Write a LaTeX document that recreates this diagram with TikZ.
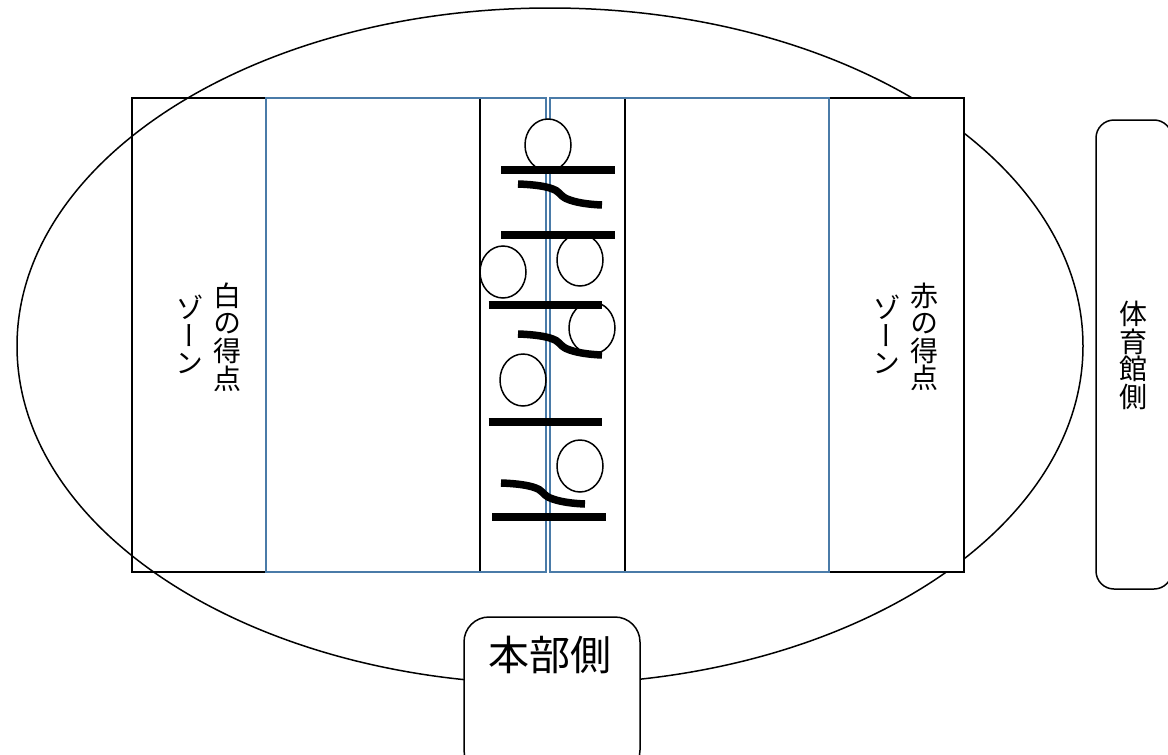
\documentclass[tikz,border=0pt]{standalone}
\usepackage{fontspec}
\newfontfamily\jp{Noto Sans CJK JP}[RawFeature={+vert}]
\newfontfamily\jph{Noto Sans CJK JP}
\definecolor{courtblue}{HTML}{4A7BA8}
\tikzset{
  court/.style={draw=courtblue,line width=2.1pt},
  zone/.style={draw=black,line width=2.6pt},
  thin line/.style={draw=black,line width=1.5pt},
  bar/.style={draw=black,line width=8pt},
  swerve/.style={draw=black,line width=7.5pt},
  player/.style={draw=black,fill=white,line width=1.5pt},
  vtext/.style={font=\jp\fontsize{28}{27.6}\selectfont,align=center,inner sep=0pt,anchor=north},
  panel/.style={draw=black,fill=white,line width=1.5pt,rounded corners=#1},
}
\newcommand{\swervepath}[2]{%
  \draw[swerve] (#1,#2) .. controls (#1+14,#2+0.5) and (#1+30,#2+2) .. (#1+38,#2+6.5)
     .. controls (#1+43,#2+10) and (#1+43,#2+12) .. (#1+48,#2+14.5)
     .. controls (#1+58,#2+19) and (#1+72,#2+20.5) .. (#1+84,#2+21);}
\begin{document}
\begin{tikzpicture}[x=1pt,y=-1pt]
\useasboundingbox (0,0) rectangle (1168,755);
\clip (0,0) rectangle (1168,755);
\draw[thin line] (550,346) ellipse [x radius=533,y radius=338];
% right score zone hides the ellipse
\draw[zone,fill=white] (829,98) rectangle (964,572);
\draw[zone] (132,98) rectangle (266,572);
% court
\draw[thin line] (480,98) -- (480,572);
\draw[thin line] (625,98) -- (625,572);
\draw[court] (266,98) rectangle (546,572);
\draw[court] (550,98) rectangle (829,572);
% players
\draw[player] (548,145) ellipse [x radius=23,y radius=26];
\draw[player] (580,260) ellipse [x radius=23,y radius=26];
\draw[player] (503,272) ellipse [x radius=23,y radius=26];
\draw[player] (592,328) ellipse [x radius=23,y radius=26];
\draw[player] (523,380) ellipse [x radius=23,y radius=26];
\draw[player] (580,466) ellipse [x radius=23,y radius=26];
% bars
\draw[bar] (501,169.5) -- (615,169.5);
\draw[bar] (501,235) -- (615,235);
\draw[bar] (488.5,305) -- (602,305);
\draw[bar] (488.5,422) -- (602,422);
\draw[bar] (492,517) -- (606,517);
\swervepath{518}{184}
\swervepath{518}{334}
\swervepath{501}{483}
% side panels
\draw[panel=25] (464,617) rectangle (640,775);
\draw[panel=18] (1096,120) rectangle (1172,589);
% text
\node[vtext] (w1) at (227,282.5) {白\\の\\得\\点};
\node[vtext] (w2) at (189,295) {ゾ\\ー\\ン};
\node[vtext] (r1) at (924,282.5) {赤\\の\\得\\点};
\node[vtext] (r2) at (886,295) {ゾ\\ー\\ン};
\node[vtext] (gym) at (1133.5,301) {体\\育\\館\\側};
\node[font=\jph\fontsize{41}{45}\selectfont,inner sep=0pt] (hq) at (550,655) {本部側};
\end{tikzpicture}
\end{document}
